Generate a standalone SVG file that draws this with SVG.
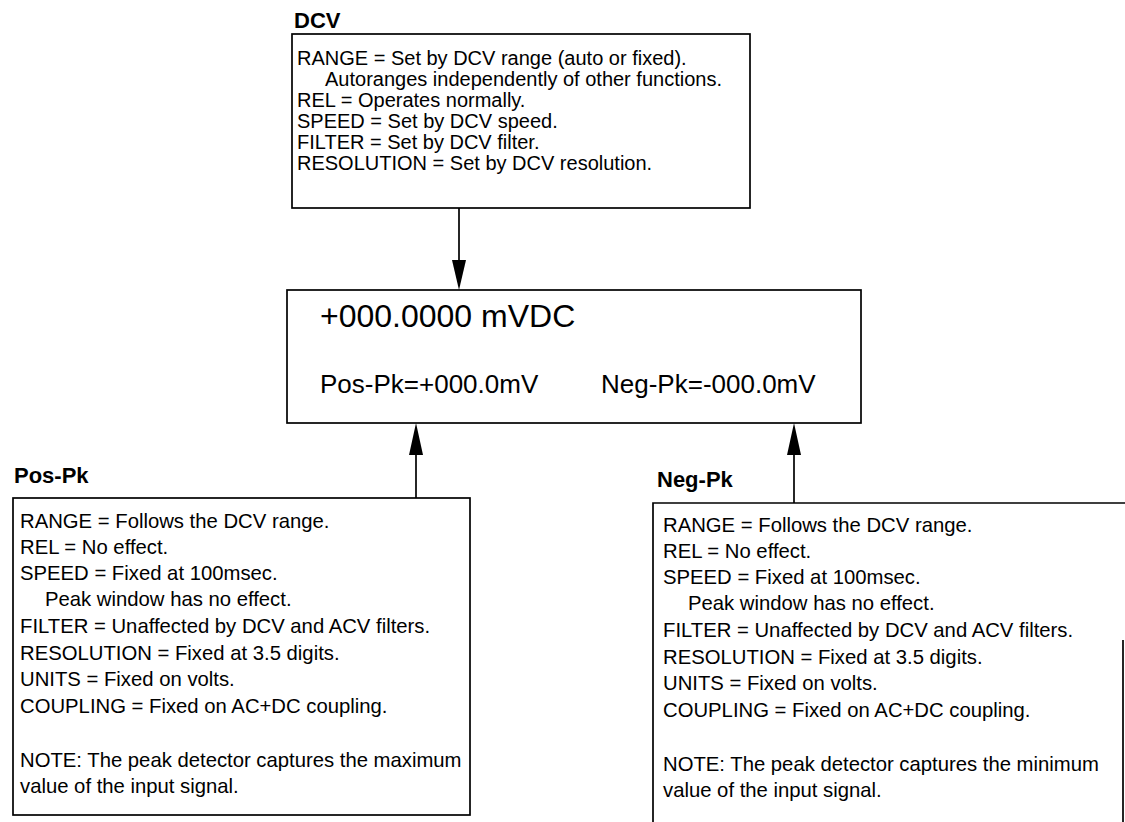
<svg xmlns="http://www.w3.org/2000/svg" width="1125" height="822" viewBox="0 0 1125 822">
<style>
.bg{fill:#fff}
.box{fill:none;stroke:#000;stroke-width:1.7}
.ln{stroke:#000;stroke-width:1.7;fill:none}
.t{font-family:"Liberation Sans",Arial,sans-serif;font-size:20.3px;fill:#000}
.td{font-family:"Liberation Sans",Arial,sans-serif;font-size:20px;fill:#000}
.h{font-family:"Liberation Sans",Arial,sans-serif;font-size:22px;font-weight:bold;fill:#000}
.big{font-family:"Liberation Sans",Arial,sans-serif;font-size:32px;fill:#000}
.mid{font-family:"Liberation Sans",Arial,sans-serif;font-size:26px;fill:#000}
.ah{fill:#000}
</style>
<rect class="bg" x="0" y="0" width="1125" height="822"/>
<g id="dcv">
<text class="h" x="294" y="28">DCV</text>
<rect class="box" x="292" y="34" width="458" height="174"/>
<text class="td" x="297" y="65">RANGE = Set by DCV range (auto or fixed).</text>
<text class="td" x="325" y="86">Autoranges independently of other functions.</text>
<text class="td" x="297" y="107">REL = Operates normally.</text>
<text class="td" x="297" y="128">SPEED = Set by DCV speed.</text>
<text class="td" x="297" y="149">FILTER = Set by DCV filter.</text>
<text class="td" x="297" y="170">RESOLUTION = Set by DCV resolution.</text>
</g>
<g id="display">
<rect class="box" x="287" y="290" width="574" height="133"/>
<text class="big" x="320" y="327">+000.0000 mVDC</text>
<text class="mid" x="320" y="393">Pos-Pk=+000.0mV</text>
<text class="mid" x="601" y="393">Neg-Pk=-000.0mV</text>
</g>
<g id="pospk">
<text class="h" x="14" y="483">Pos-Pk</text>
<rect class="box" x="13" y="498" width="457" height="317"/>
<text class="t" x="20" y="528">RANGE = Follows the DCV range.</text>
<text class="t" x="20" y="554">REL = No effect.</text>
<text class="t" x="20" y="580">SPEED = Fixed at 100msec.</text>
<text class="t" x="45" y="606">Peak window has no effect.</text>
<text class="t" x="20" y="633">FILTER = Unaffected by DCV and ACV filters.</text>
<text class="t" x="20" y="660">RESOLUTION = Fixed at 3.5 digits.</text>
<text class="t" x="20" y="686">UNITS = Fixed on volts.</text>
<text class="t" x="20" y="713">COUPLING = Fixed on AC+DC coupling.</text>
<text class="t" x="20" y="767">NOTE: The peak detector captures the maximum</text>
<text class="t" x="20" y="793">value of the input signal.</text>
</g>
<g id="negpk">
<text class="h" x="657" y="487">Neg-Pk</text>
<path class="ln" d="M653,822 V503 H1125 M1123,640 V822"/>
<text class="t" x="663" y="532">RANGE = Follows the DCV range.</text>
<text class="t" x="663" y="558">REL = No effect.</text>
<text class="t" x="663" y="584">SPEED = Fixed at 100msec.</text>
<text class="t" x="688" y="610">Peak window has no effect.</text>
<text class="t" x="663" y="637">FILTER = Unaffected by DCV and ACV filters.</text>
<text class="t" x="663" y="664">RESOLUTION = Fixed at 3.5 digits.</text>
<text class="t" x="663" y="690">UNITS = Fixed on volts.</text>
<text class="t" x="663" y="717">COUPLING = Fixed on AC+DC coupling.</text>
<text class="t" x="663" y="771">NOTE: The peak detector captures the minimum</text>
<text class="t" x="663" y="797">value of the input signal.</text>
</g>
<g id="connectors">
<line class="ln" x1="459" y1="208" x2="459" y2="262"/>
<polygon class="ah" points="452,260 466,260 459,290"/>
<line class="ln" x1="416" y1="498" x2="416" y2="452"/>
<polygon class="ah" points="409,455 423,455 416,423"/>
<line class="ln" x1="794" y1="503" x2="794" y2="452"/>
<polygon class="ah" points="787,455 801,455 794,423"/>
</g>
</svg>
